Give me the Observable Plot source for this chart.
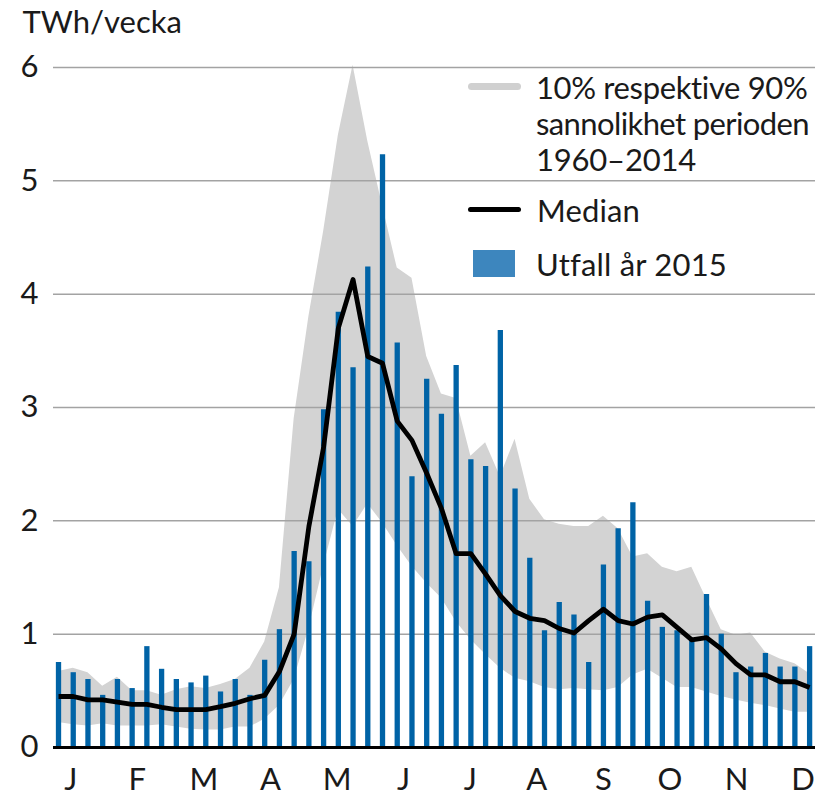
<!DOCTYPE html>
<html>
<head>
<meta charset="utf-8">
<script src="https://cdn.jsdelivr.net/npm/d3@7"></script>
<script src="https://cdn.jsdelivr.net/npm/@observablehq/plot@0.6"></script>
<style>
  html, body { margin: 0; padding: 0; background: #fff; }
  #wrap { position: relative; width: 816px; height: 795px; font-family: Lato, "Noto Sans", sans-serif; color: #1a1a1a; }
  #wrap svg { position: absolute; left: 0; top: 0; }
  .lg { position: absolute; font-size: 31px; line-height: 36px; white-space: nowrap; }
  .sw { position: absolute; }
</style>
</head>
<body>
<div id="wrap"></div>
<script>
// ---- data ----
const weeks = [1,2,3,4,5,6,7,8,9,10,11,12,13,14,15,16,17,18,19,20,21,22,23,24,25,26,
               27,28,29,30,31,32,33,34,35,36,37,38,39,40,41,42,43,44,45,46,47,48,49,50,51,52];
// Utfall år 2015 (TWh/vecka)
const actual2015 = [0.75,0.66,0.60,0.46,0.60,0.52,0.89,0.69,0.60,0.57,0.63,0.49,0.60,0.46,0.77,1.04,
                    1.73,1.64,2.98,3.84,3.35,4.24,5.23,3.57,2.39,3.25,2.94,3.37,2.54,2.48,3.68,2.28,
                    1.67,1.03,1.28,1.17,0.75,1.61,1.93,2.16,1.29,1.06,1.03,0.94,1.35,1.00,0.66,0.71,
                    0.83,0.71,0.71,0.89];
// Median 1960–2014
const median = [0.45,0.45,0.42,0.42,0.40,0.38,0.38,0.355,0.335,0.335,0.335,0.36,0.39,0.43,0.46,0.67,
                1.00,1.95,2.65,3.70,4.13,3.45,3.39,2.88,2.71,2.42,2.11,1.71,1.71,1.53,1.34,1.20,
                1.14,1.12,1.05,1.01,1.12,1.22,1.12,1.09,1.15,1.17,1.06,0.95,0.97,0.87,0.74,0.64,
                0.64,0.58,0.58,0.53];
// 90 % sannolikhet
const p90 = [0.67,0.70,0.66,0.54,0.62,0.50,0.50,0.46,0.51,0.535,0.52,0.555,0.60,0.70,0.93,1.41,
             2.90,3.80,4.55,5.40,6.02,5.35,4.78,4.23,4.14,3.45,3.12,3.08,2.57,2.69,2.39,2.72,
             2.19,2.01,1.97,1.95,1.95,2.04,1.93,1.68,1.71,1.59,1.55,1.59,1.31,1.04,0.99,1.01,
             0.84,0.78,0.74,0.65];
// 10 % sannolikhet
const p10 = [0.22,0.20,0.19,0.21,0.19,0.19,0.19,0.20,0.18,0.16,0.155,0.155,0.18,0.18,0.25,0.37,
             0.60,1.05,1.60,2.10,1.95,2.15,1.98,1.78,1.60,1.45,1.32,1.11,0.95,0.82,0.70,0.61,
             0.58,0.53,0.51,0.52,0.51,0.50,0.53,0.64,0.69,0.61,0.53,0.53,0.49,0.45,0.42,0.39,
             0.37,0.34,0.31,0.31];
const months = ["J","F","M","A","M","J","J","A","S","O","N","D"];
const yTicks = [0,1,2,3,4,5,6];
const yLabel = "TWh/vecka";
const legendLines = ["10% respektive 90%", "sannolikhet perioden", "1960–2014"];
const legendMedian = "Median";
const legendActual = "Utfall år 2015";

// ---- table ----
const rows = weeks.map((w, i) => ({week: w, actual: actual2015[i], median: median[i], lo: p10[i], hi: p90[i]}));
// month labels spread along the week axis
const monthPos = months.map((m, i) => 1.835 + i * 4.52);

const FONT = 'Lato, "Noto Sans", sans-serif';
const BLUE = "#0063a6";
const GREY = "#d3d3d3";

const chart = Plot.plot({
  width: 816,
  height: 795,
  marginLeft: 53,
  marginRight: 1,
  marginTop: 67,
  marginBottom: 48,
  x: {domain: [0.66, 52.4], axis: null},
  y: {domain: [0, 6], axis: null},
  style: {fontFamily: FONT, fontSize: "31px", color: "#1a1a1a", background: "transparent", overflow: "visible"},
  marks: [
    Plot.areaY(rows, {x: "week", y1: "lo", y2: "hi", fill: GREY}),
    Plot.gridY(yTicks.filter(d => d > 0), {stroke: "#a3a3a3", strokeWidth: 1.5, strokeOpacity: 1}),
    Plot.ruleX(rows, {x: "week", y1: 0, y2: "actual", stroke: BLUE, strokeWidth: 5.3}),
    Plot.lineY(rows, {x: "week", y: "median", stroke: "black", strokeWidth: 4.8, strokeLinejoin: "round", strokeLinecap: "butt"}),
    Plot.ruleY([0], {stroke: "black", strokeWidth: 3}),
    Plot.axisY(yTicks, {tickSize: 0, tickPadding: 15, fontSize: 31, fill: "#1a1a1a", tickFormat: d3.format("d"), label: null}),
    Plot.axisX(monthPos, {tickSize: 0, tickPadding: 20, fontSize: 31, fill: "#1a1a1a", label: null,
      tickFormat: d => months[monthPos.indexOf(d)]}),
    Plot.text([yLabel], {frameAnchor: "top-left", text: d => d, dx: -31, dy: -57, textAnchor: "start", lineAnchor: "top", fontSize: 31, fill: "#1a1a1a"})
  ]
});

const wrap = document.getElementById("wrap");
wrap.appendChild(chart);

// ---- legend ----
const ctx = document.createElement("canvas").getContext("2d");
ctx.font = "31px " + FONT;
function fitText(el, txt, target) {
  const w = ctx.measureText(txt).width;
  const n = [...txt].length;
  el.style.letterSpacing = ((target - w) / n).toFixed(2) + "px";
}
function div(cls, styles) {
  const el = document.createElement("div");
  el.className = cls;
  Object.assign(el.style, styles);
  wrap.appendChild(el);
  return el;
}
div("sw", {left: "468px", top: "83px", width: "53px", height: "7px", background: "#d0d0d0", borderRadius: "3.5px"});
const targets = [272, 273, 160];
legendLines.forEach((txt, i) => {
  const el = div("lg", {left: "536px", top: (69 + i * 36) + "px"});
  el.textContent = txt;
  fitText(el, txt, targets[i]);
});
div("sw", {left: "468px", top: "207px", width: "53px", height: "5px", background: "#000", borderRadius: "2.5px"});
const tm = div("lg", {left: "537px", top: "192px"});
tm.textContent = legendMedian;
fitText(tm, legendMedian, 103);
div("sw", {left: "473px", top: "250px", width: "42px", height: "27px", background: "#3d86be"});
const ta = div("lg", {left: "536px", top: "246px"});
ta.textContent = legendActual;
fitText(ta, legendActual, 191);
</script>
</body>
</html>
